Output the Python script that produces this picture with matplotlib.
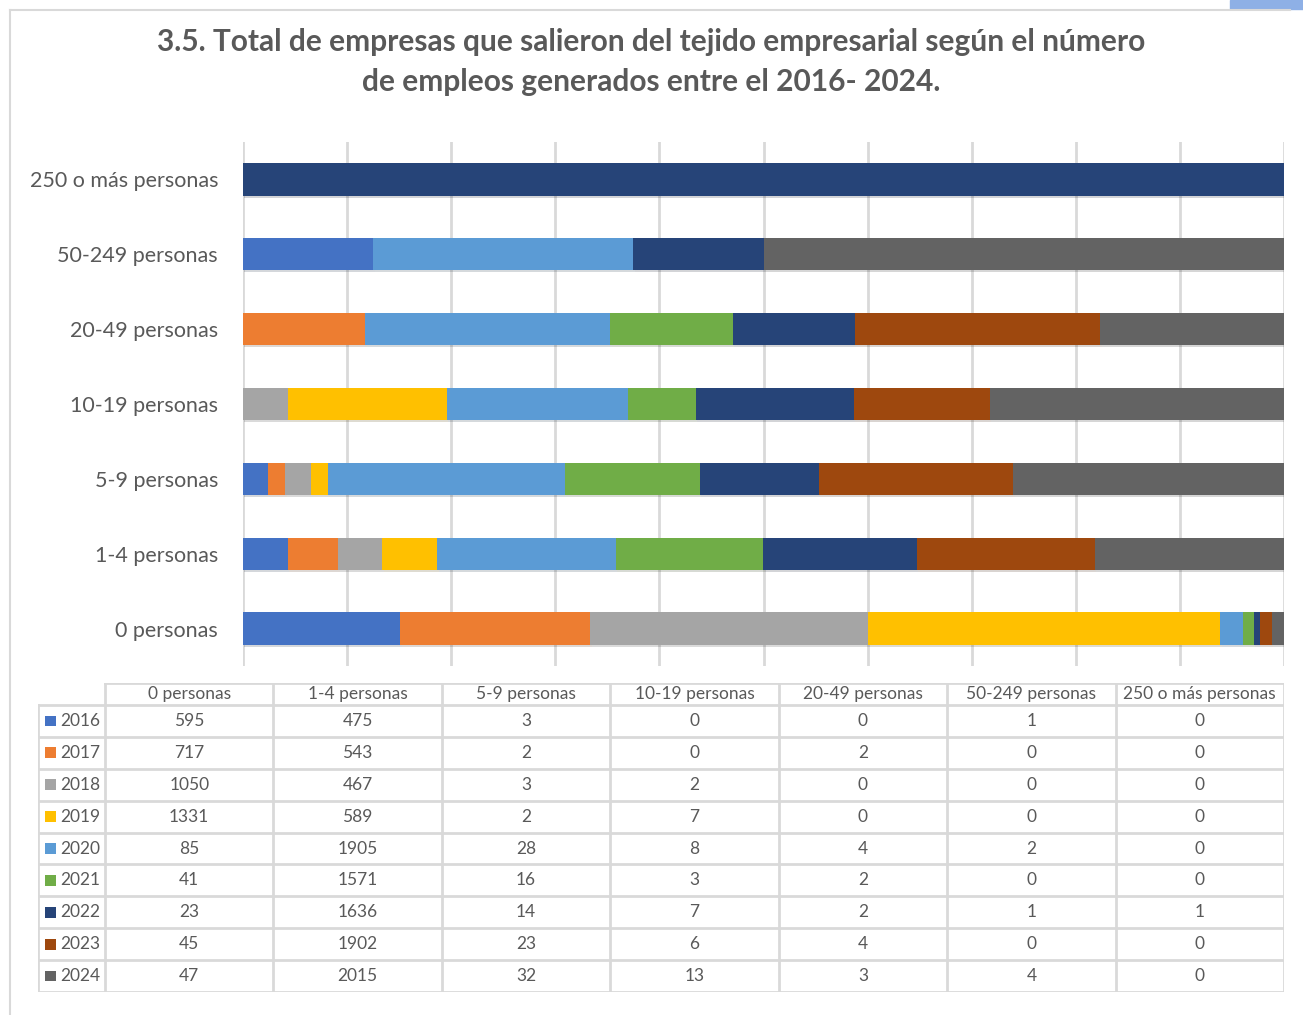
import matplotlib.pyplot as plt
import matplotlib.patheffects as pe
from matplotlib.lines import Line2D
from matplotlib.patches import Rectangle
import numpy as np

# ---------- DATA ----------
categories = ["0 personas", "1-4 personas", "5-9 personas", "10-19 personas",
              "20-49 personas", "50-249 personas", "250 o más personas"]
years = ["2016", "2017", "2018", "2019", "2020", "2021", "2022", "2023", "2024"]

v2016 = [595, 475, 3, 0, 0, 1, 0]
v2017 = [717, 543, 2, 0, 2, 0, 0]
v2018 = [1050, 467, 3, 2, 0, 0, 0]
v2019 = [1331, 589, 2, 7, 0, 0, 0]
v2020 = [85, 1905, 28, 8, 4, 2, 0]
v2021 = [41, 1571, 16, 3, 2, 0, 0]
v2022 = [23, 1636, 14, 7, 2, 1, 1]
v2023 = [45, 1902, 23, 6, 4, 0, 0]
v2024 = [47, 2015, 32, 13, 3, 4, 0]

colors = ["#4472C4", "#ED7D31", "#A5A5A5", "#FFC000", "#5B9BD5",
          "#70AD47", "#264478", "#9E480E", "#636363"]

title = ("3.5. Total de empresas que salieron del tejido empresarial según el número\n"
         "de empleos generados entre el 2016- 2024.")

# ---------- LAYOUT ----------
W, H = 1303, 1015
FONT = ["Lato", "DejaVu Sans"]
TXT = "#595959"
GRID = "#D9D9D9"


def box(x0, y0, x1, y1):
    return [x0 / W, 1 - y1 / H, (x1 - x0) / W, (y1 - y0) / H]


plt.rcParams["font.family"] = FONT

series = np.array([v2016, v2017, v2018, v2019, v2020, v2021, v2022, v2023, v2024], dtype=float)
pct = series / series.sum(axis=0) * 100

fig = plt.figure(figsize=(W / 100, H / 100), dpi=100)

# frame of the chart area
fig.add_artist(Line2D([10 / W, 10 / W], [0, 1 - 10 / H], color="#D9D9D9", lw=1.5))
fig.add_artist(Line2D([10 / W, 1290 / W], [1 - 10 / H, 1 - 10 / H], color="#D9D9D9", lw=1.5))
fig.add_artist(Rectangle((1230 / W, 1 - 9 / H), 73 / W, 9 / H, color="#8EB0E6",
                         transform=fig.transFigure))

fig.text(651 / W, 1 - 62 / H, title, ha="center", va="center", fontsize=21.5,
         fontweight="bold", color=TXT, linespacing=1.5)

# ---------- BARS ----------
ax = fig.add_axes(box(243, 142, 1284, 666))
y = np.arange(len(categories))
left = np.zeros(len(categories))
shadow = [pe.SimplePatchShadow(offset=(1, -1.5), alpha=0.18), pe.Normal()]
for i, yr in enumerate(years):
    bars = ax.barh(y, pct[i], left=left, height=0.43, color=colors[i], zorder=3)
    for b in bars:
        b.set_path_effects(shadow)
    left += pct[i]

ax.set_xlim(0, 100)
ax.set_ylim(-0.5, len(categories) - 0.5)
ax.set_xticks(np.arange(0, 101, 10))
ax.set_xticklabels([])
ax.tick_params(axis="x", length=0)
ax.grid(axis="x", color=GRID, lw=2, zorder=0)
ax.set_yticks(y)
ax.set_yticklabels(categories, fontsize=15.5, color=TXT)
ax.tick_params(axis="y", length=0, pad=18)
for s in ax.spines.values():
    s.set_visible(False)

# ---------- DATA TABLE ----------
tax = fig.add_axes(box(38, 683, 1284, 992))
lab_w = (105 - 38) / ((1284 - 105) / 7)
hdr_h = (705 - 683) / ((992 - 705) / 9)
ncol, nrow = len(categories), len(years)
tax.set_xlim(0, lab_w + ncol)
tax.set_ylim(nrow + hdr_h, 0)
tax.axis("off")

lc = dict(color=GRID, lw=2, solid_capstyle="projecting")
# header box
tax.plot([lab_w, lab_w + ncol], [0, 0], **lc)
for j in range(ncol + 1):
    tax.plot([lab_w + j, lab_w + j], [0, hdr_h + nrow], **lc)
tax.plot([0, 0], [hdr_h, hdr_h + nrow], **lc)
for r in range(nrow + 1):
    tax.plot([0, lab_w + ncol], [hdr_h + r, hdr_h + r], **lc)

for j, c in enumerate(categories):
    tax.text(lab_w + j + 0.5, hdr_h / 2, c, ha="center", va="center",
             fontsize=12.5, color=TXT)

for r, yr in enumerate(years):
    yc = hdr_h + r + 0.5
    tax.add_patch(Rectangle((0.042, yc - 0.17), 0.065, 0.34, color=colors[r], lw=0))
    tax.text(0.13, yc, yr, ha="left", va="center", fontsize=12.5, color=TXT)
    for j in range(ncol):
        tax.text(lab_w + j + 0.5, yc, f"{int(series[r, j])}", ha="center",
                 va="center", fontsize=12.5, color=TXT)

fig.savefig("out.png", dpi=100)
